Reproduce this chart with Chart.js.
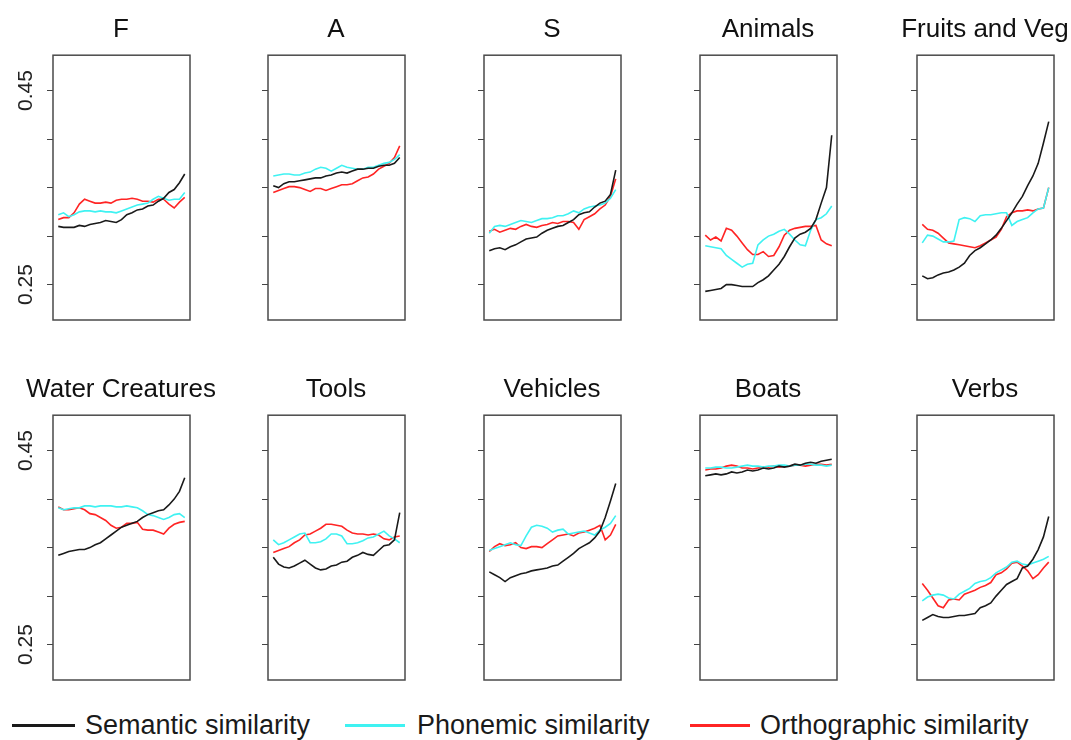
<!DOCTYPE html>
<html>
<head>
<meta charset="utf-8">
<title>Similarity by category</title>
<script src="https://cdn.jsdelivr.net/npm/chart.js@4.4.1/dist/chart.umd.min.js"></script>
<style>
  body { margin: 0; background: #fff; overflow: hidden; font-family: 'Liberation Sans', Arial, sans-serif; }
  #wrap { position: relative; width: 1071px; height: 740px; overflow: hidden; }
  canvas.panel { position: absolute; }
  .key { position: absolute; top: 709px; font-size: 27px; line-height: 32px; color: #1a1a1a; white-space: nowrap; }
  .swatch { position: absolute; top: 724px; height: 3px; }
</style>
</head>
<body>
<div id="wrap">
  <div class="swatch" style="left:12px;width:63px;background:#1a1a1a"></div>
  <div class="key" style="left:85px">Semantic similarity</div>
  <div class="swatch" style="left:345px;width:60px;background:#3ff2f2"></div>
  <div class="key" style="left:417px">Phonemic similarity</div>
  <div class="swatch" style="left:690px;width:60px;background:#ff2424"></div>
  <div class="key" style="left:760px">Orthographic similarity</div>
</div>
<script>
const TITLES = ['F', 'A', 'S', 'Animals', 'Fruits and Veg', 'Water Creatures', 'Tools', 'Vehicles', 'Boats', 'Verbs'];
const Y_TICKS = [0.25, 0.3, 0.35, 0.4, 0.45];
const Y_LABELLED = [0.25, 0.45];

// top row
const F_SEM = [0.310,0.309,0.309,0.309,0.311,0.310,0.312,0.313,0.314,0.316,0.315,0.314,0.317,0.322,0.324,0.327,0.328,0.331,0.332,0.336,0.339,0.345,0.348,0.355,0.364];
const F_PHO = [0.322,0.324,0.320,0.322,0.325,0.326,0.326,0.325,0.326,0.325,0.325,0.324,0.326,0.328,0.330,0.332,0.333,0.334,0.338,0.341,0.339,0.337,0.338,0.338,0.345];
const F_ORT = [0.317,0.319,0.319,0.324,0.333,0.338,0.336,0.334,0.334,0.335,0.334,0.337,0.338,0.338,0.339,0.338,0.336,0.336,0.335,0.338,0.338,0.333,0.329,0.335,0.340];

const A_SEM = [0.352,0.350,0.354,0.356,0.356,0.357,0.358,0.359,0.360,0.360,0.362,0.363,0.365,0.366,0.365,0.367,0.369,0.369,0.370,0.370,0.372,0.373,0.373,0.375,0.381];
const A_PHO = [0.362,0.363,0.364,0.364,0.363,0.363,0.365,0.366,0.369,0.371,0.370,0.367,0.370,0.373,0.371,0.370,0.369,0.369,0.371,0.371,0.373,0.375,0.376,0.379,0.384];
const A_ORT = [0.345,0.347,0.349,0.351,0.351,0.350,0.348,0.346,0.349,0.349,0.347,0.349,0.351,0.353,0.353,0.354,0.357,0.360,0.361,0.364,0.369,0.372,0.375,0.381,0.393];

const S_SEM = [0.285,0.287,0.288,0.286,0.289,0.291,0.294,0.297,0.298,0.299,0.303,0.306,0.308,0.310,0.311,0.314,0.317,0.322,0.324,0.325,0.330,0.334,0.336,0.343,0.368];
const S_PHO = [0.303,0.310,0.311,0.310,0.312,0.314,0.316,0.315,0.314,0.316,0.318,0.318,0.319,0.321,0.321,0.323,0.326,0.324,0.328,0.330,0.331,0.332,0.334,0.339,0.348];
const S_ORT = [0.305,0.307,0.304,0.306,0.308,0.307,0.310,0.312,0.310,0.309,0.311,0.312,0.314,0.313,0.315,0.315,0.314,0.307,0.317,0.320,0.323,0.328,0.332,0.341,0.359];

const ANI_SEM = [0.243,0.244,0.245,0.246,0.250,0.250,0.249,0.248,0.248,0.248,0.252,0.255,0.259,0.265,0.271,0.279,0.289,0.298,0.302,0.304,0.308,0.317,0.334,0.350,0.404];
const ANI_PHO = [0.290,0.289,0.288,0.287,0.280,0.276,0.272,0.268,0.271,0.272,0.291,0.296,0.300,0.302,0.305,0.307,0.302,0.296,0.291,0.290,0.306,0.317,0.319,0.323,0.331];
const ANI_ORT = [0.301,0.296,0.299,0.295,0.308,0.306,0.300,0.293,0.286,0.281,0.281,0.284,0.279,0.280,0.289,0.301,0.306,0.308,0.309,0.310,0.310,0.311,0.296,0.292,0.290];

const FV_SEM = [0.259,0.256,0.257,0.260,0.262,0.263,0.265,0.268,0.272,0.280,0.285,0.288,0.292,0.296,0.301,0.308,0.316,0.324,0.333,0.341,0.352,0.362,0.375,0.396,0.418];
const FV_PHO = [0.293,0.301,0.300,0.297,0.294,0.294,0.295,0.317,0.319,0.318,0.315,0.321,0.322,0.322,0.323,0.324,0.324,0.311,0.315,0.317,0.319,0.324,0.328,0.329,0.350];
const FV_ORT = [0.312,0.307,0.306,0.303,0.298,0.293,0.292,0.291,0.290,0.289,0.288,0.290,0.293,0.296,0.299,0.307,0.320,0.324,0.326,0.326,0.327,0.326,0.328,0.329,0.350];

// bottom row
const WC_SEM = [0.342,0.344,0.346,0.347,0.348,0.348,0.350,0.353,0.355,0.359,0.363,0.367,0.371,0.373,0.375,0.377,0.381,0.384,0.386,0.388,0.389,0.394,0.400,0.408,0.422];
const WC_PHO = [0.391,0.389,0.390,0.391,0.391,0.393,0.393,0.392,0.393,0.393,0.393,0.392,0.392,0.393,0.392,0.391,0.388,0.384,0.383,0.381,0.379,0.381,0.384,0.385,0.381];
const WC_ORT = [0.392,0.389,0.389,0.390,0.391,0.389,0.385,0.384,0.381,0.378,0.373,0.370,0.371,0.375,0.375,0.376,0.369,0.368,0.368,0.366,0.364,0.370,0.374,0.376,0.377];

const TL_SEM = [0.340,0.333,0.330,0.329,0.331,0.334,0.337,0.333,0.329,0.327,0.328,0.331,0.332,0.335,0.336,0.340,0.342,0.345,0.343,0.342,0.347,0.352,0.353,0.358,0.386];
const TL_PHO = [0.358,0.353,0.355,0.358,0.361,0.364,0.365,0.355,0.355,0.356,0.359,0.364,0.364,0.362,0.354,0.354,0.355,0.357,0.360,0.361,0.364,0.367,0.362,0.359,0.355];
const TL_ORT = [0.345,0.347,0.349,0.351,0.355,0.358,0.363,0.364,0.367,0.370,0.374,0.374,0.373,0.372,0.368,0.365,0.364,0.364,0.363,0.364,0.363,0.359,0.358,0.361,0.362];

const VH_SEM = [0.325,0.322,0.319,0.315,0.319,0.321,0.323,0.324,0.326,0.327,0.328,0.329,0.331,0.332,0.336,0.340,0.344,0.349,0.352,0.355,0.360,0.367,0.381,0.398,0.416];
const VH_PHO = [0.347,0.349,0.351,0.353,0.355,0.353,0.352,0.362,0.371,0.373,0.372,0.370,0.366,0.368,0.369,0.364,0.365,0.366,0.367,0.365,0.363,0.368,0.371,0.375,0.383];
const VH_ORT = [0.346,0.351,0.354,0.352,0.353,0.355,0.350,0.349,0.351,0.351,0.350,0.354,0.358,0.362,0.363,0.364,0.362,0.365,0.366,0.368,0.370,0.373,0.358,0.363,0.374];

const BT_SEM = [0.424,0.425,0.426,0.425,0.426,0.428,0.427,0.428,0.430,0.429,0.430,0.432,0.431,0.432,0.434,0.433,0.434,0.436,0.435,0.437,0.438,0.437,0.439,0.440,0.441];
const BT_PHO = [0.432,0.432,0.433,0.433,0.432,0.432,0.433,0.434,0.435,0.434,0.434,0.433,0.434,0.434,0.435,0.435,0.434,0.435,0.435,0.436,0.436,0.435,0.435,0.434,0.435];
const BT_ORT = [0.430,0.431,0.431,0.432,0.434,0.435,0.434,0.432,0.432,0.431,0.432,0.433,0.433,0.434,0.433,0.434,0.434,0.435,0.435,0.434,0.435,0.436,0.436,0.435,0.436];

const VB_SEM = [0.275,0.278,0.281,0.279,0.278,0.278,0.279,0.280,0.280,0.281,0.282,0.288,0.290,0.293,0.300,0.306,0.312,0.315,0.318,0.329,0.331,0.338,0.348,0.361,0.382];
const VB_PHO = [0.295,0.299,0.301,0.302,0.301,0.298,0.297,0.302,0.305,0.308,0.313,0.315,0.316,0.319,0.324,0.327,0.330,0.335,0.336,0.333,0.332,0.334,0.336,0.338,0.341];
const VB_ORT = [0.313,0.306,0.298,0.290,0.288,0.296,0.297,0.296,0.302,0.304,0.306,0.309,0.311,0.314,0.322,0.324,0.328,0.334,0.335,0.331,0.326,0.318,0.322,0.329,0.335];

const SEMANTIC = [F_SEM, A_SEM, S_SEM, ANI_SEM, FV_SEM, WC_SEM, TL_SEM, VH_SEM, BT_SEM, VB_SEM];
const PHONEMIC = [F_PHO, A_PHO, S_PHO, ANI_PHO, FV_PHO, WC_PHO, TL_PHO, VH_PHO, BT_PHO, VB_PHO];
const ORTHOGRAPHIC = [F_ORT, A_ORT, S_ORT, ANI_ORT, FV_ORT, WC_ORT, TL_ORT, VH_ORT, BT_ORT, VB_ORT];

const FONT = "'Liberation Sans', Arial, sans-serif";
const BOX_LEFT = [53, 268, 484, 700, 917];
const ROW_TOP = [0, 360];

// frame round the plot area, like R's box()
const boxPlugin = {
  id: 'box',
  afterDraw(chart) {
    const { ctx, chartArea: a } = chart;
    ctx.save();
    ctx.strokeStyle = '#4a4a4a';
    ctx.lineWidth = 1.5;
    ctx.strokeRect(a.left, a.top, a.right - a.left, a.bottom - a.top);
    ctx.restore();
  }
};

function line(label, data, color) {
  return { label, data, borderColor: color, borderWidth: 1.6, pointRadius: 0, tension: 0, fill: false };
}

const wrap = document.getElementById('wrap');

TITLES.forEach((title, p) => {
  const col = p % 5;
  const row = Math.floor(p / 5);
  const canvas = document.createElement('canvas');
  canvas.className = 'panel';
  canvas.width = 216;
  canvas.height = 335;
  canvas.style.left = (BOX_LEFT[col] - 40) + 'px';
  canvas.style.top = ROW_TOP[row] + 'px';
  wrap.appendChild(canvas);

  new Chart(canvas, {
    type: 'line',
    data: {
      labels: SEMANTIC[p].map((_, i) => i),
      datasets: [
        line('Semantic similarity', SEMANTIC[p], '#1a1a1a'),
        line('Phonemic similarity', PHONEMIC[p], '#3ff2f2'),
        line('Orthographic similarity', ORTHOGRAPHIC[p], '#ff2424')
      ]
    },
    options: {
      responsive: false,
      animation: false,
      devicePixelRatio: 1,
      layout: { padding: { left: 0, right: 0, top: 0, bottom: 15 } },
      plugins: {
        legend: { display: false },
        tooltip: { enabled: false },
        title: {
          display: true,
          text: title,
          color: '#111',
          font: { family: FONT, size: 26, weight: 'normal' },
          padding: { top: 14, bottom: 10 }
        }
      },
      scales: {
        x: { type: 'linear', min: -1, max: SEMANTIC[p].length, display: false },
        y: {
          min: 0.2135,
          max: 0.4865,
          afterFit: s => { s.width = 40; },
          afterBuildTicks: s => { s.ticks = Y_TICKS.map(v => ({ value: v })); },
          border: { display: false },
          grid: { drawOnChartArea: false, drawTicks: true, tickLength: 6, color: '#444', lineWidth: 1 },
          ticks: {
            autoSkip: false,
            minRotation: 90,
            maxRotation: 90,
            crossAlign: 'center',
            padding: 0,
            color: '#222',
            font: { family: FONT, size: 21 },
            callback: v => (col === 0 && Y_LABELLED.includes(v)) ? v.toFixed(2) : ''
          }
        },
        // empty right-hand axis, only there to keep the plot centred under its title
        spacer: {
          position: 'right',
          display: true,
          afterFit: s => { s.width = 39; },
          border: { display: false },
          grid: { display: false },
          ticks: { display: false }
        }
      }
    },
    plugins: [boxPlugin]
  });
});
</script>
</body>
</html>
